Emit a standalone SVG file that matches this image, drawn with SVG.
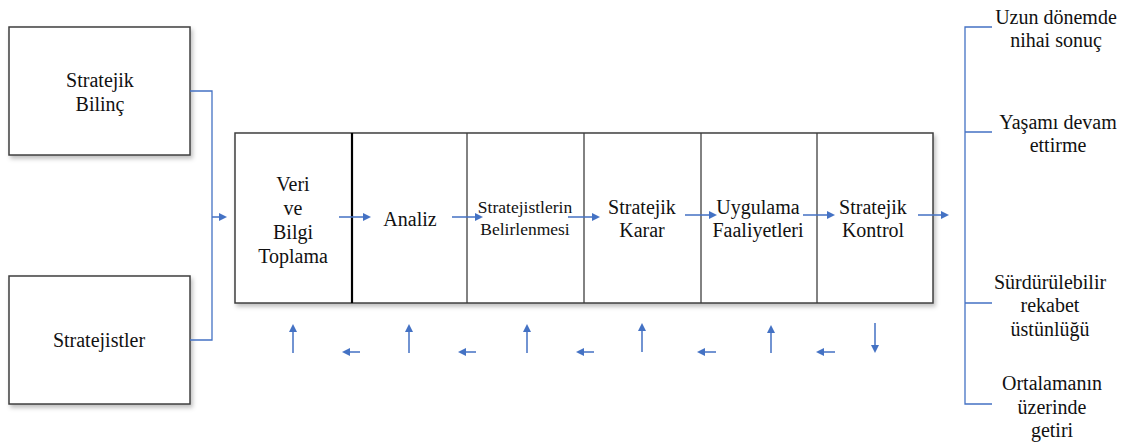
<svg xmlns="http://www.w3.org/2000/svg" width="1136" height="444" viewBox="0 0 1136 444">
<style>
.box{fill:#fff;stroke:#3f3f3f;stroke-width:1.5}
.div{stroke:#3f3f3f;stroke-width:1.3}
.s{font-size:17.5px}
.c{fill:none;stroke:#4472C4;stroke-width:1.3}
.a{fill:none;stroke:#4472C4;stroke-width:1.5}
.h{fill:#4472C4}
</style>
<defs>
<filter id="sh" x="-10%" y="-10%" width="130%" height="130%">
<feDropShadow dx="2" dy="3" stdDeviation="2" flood-color="#000" flood-opacity="0.25"/>
</filter>
<polygon id="hr" points="0,0 -8,-4 -8,4" class="h"/>
</defs>
<rect width="1136" height="444" fill="#fff"/>
<g font-family="Liberation Serif, Times New Roman, serif" font-size="20" fill="#111" text-anchor="middle">
<g id="bilinc">
<rect class="box" x="9" y="27" width="181" height="128" filter="url(#sh)"/>
<text x="100" y="87">Stratejik</text>
<text x="100" y="111">Bilinç</text>
</g>
<g id="stratejistler">
<rect class="box" x="9" y="276" width="181" height="128" filter="url(#sh)"/>
<text x="99" y="347">Stratejistler</text>
</g>
<g id="surec">
<rect class="box" x="235" y="133" width="698" height="170" filter="url(#sh)"/>
<line x1="352" y1="133" x2="352" y2="303" stroke="#000" stroke-width="2.2"/>
<line class="div" x1="467" y1="133" x2="467" y2="303"/>
<line class="div" x1="584" y1="133" x2="584" y2="303"/>
<line class="div" x1="701" y1="133" x2="701" y2="303"/>
<line class="div" x1="817" y1="133" x2="817" y2="303"/>
</g>
<g id="veri">
<text x="293" y="191">Veri</text>
<text x="293" y="215">ve</text>
<text x="293" y="239">Bilgi</text>
<text x="293" y="263">Toplama</text>
</g>
<g id="analiz"><text x="410" y="226">Analiz</text></g>
<g id="belirlenmesi">
<text class="s" x="525" y="213">Stratejistlerin</text>
<text class="s" x="525" y="235">Belirlenmesi</text>
</g>
<g id="karar">
<text x="642" y="214">Stratejik</text>
<text x="642" y="237">Karar</text>
</g>
<g id="uygulama">
<text x="758" y="214">Uygulama</text>
<text x="758" y="237">Faaliyetleri</text>
</g>
<g id="kontrol">
<text x="873" y="214">Stratejik</text>
<text x="873" y="237">Kontrol</text>
</g>
<g id="sonuclar">
<text x="1056" y="24">Uzun dönemde</text>
<text x="1056" y="47">nihai sonuç</text>
<text x="1058" y="129">Yaşamı devam</text>
<text x="1058" y="152">ettirme</text>
<text x="1050" y="289">Sürdürülebilir</text>
<text x="1050" y="312">rekabet</text>
<text x="1050" y="336">üstünlüğü</text>
<text x="1052" y="390">Ortalamanın</text>
<text x="1052" y="414">üzerinde</text>
<text x="1052" y="437">getiri</text>
</g>
</g>
<g id="connectors">
<path class="c" d="M190,91 H212 V340 H190"/>
<path class="c" d="M992,27 H965 V404 H992 M965,132 H992 M965,303 H992"/>
<path class="a" d="M212,217 H220 M339,217 H364 M452,217 H476 M568,217 H593 M685,215 H710 M803,215 H828 M918,215 H942"/>
<path class="a" d="M293,353 V332 M409,353 V332 M527,353 V332 M642,352 V331 M771,353 V333 M875,323 V345"/>
<path class="a" d="M360,352 H349 M476,352 H465 M594,352 H583 M716,352 H704 M835,352 H823"/>
<use href="#hr" x="227" y="217"/>
<use href="#hr" x="371" y="217"/>
<use href="#hr" x="483" y="217"/>
<use href="#hr" x="600" y="217"/>
<use href="#hr" x="717" y="215"/>
<use href="#hr" x="835" y="215"/>
<use href="#hr" x="949" y="215"/>
<use href="#hr" transform="translate(293,324) rotate(-90)"/>
<use href="#hr" transform="translate(409,324) rotate(-90)"/>
<use href="#hr" transform="translate(527,324) rotate(-90)"/>
<use href="#hr" transform="translate(642,323) rotate(-90)"/>
<use href="#hr" transform="translate(771,325) rotate(-90)"/>
<use href="#hr" transform="translate(875,353) rotate(90)"/>
<use href="#hr" transform="translate(342,352) rotate(180)"/>
<use href="#hr" transform="translate(458,352) rotate(180)"/>
<use href="#hr" transform="translate(576,352) rotate(180)"/>
<use href="#hr" transform="translate(697,352) rotate(180)"/>
<use href="#hr" transform="translate(816,352) rotate(180)"/>
</g>
</svg>
